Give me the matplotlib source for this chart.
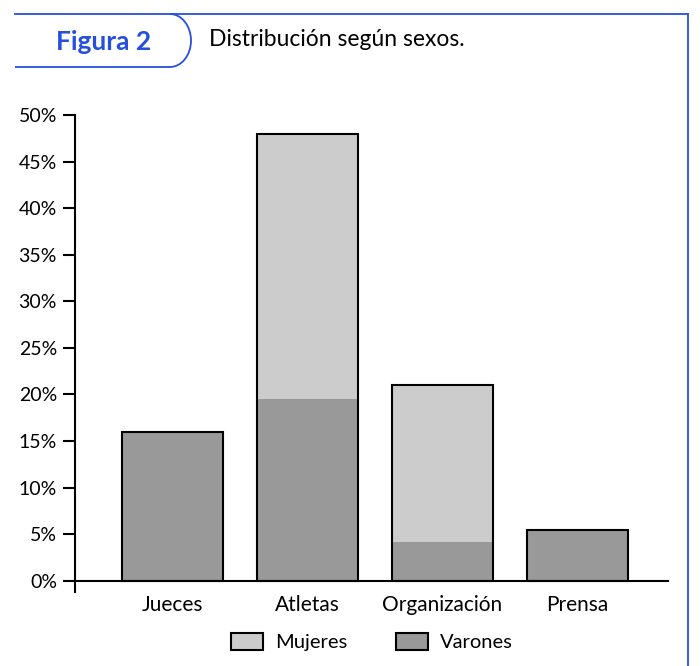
import matplotlib
matplotlib.use("Agg")
import matplotlib.pyplot as plt
from matplotlib.patches import Patch, PathPatch
from matplotlib.path import Path
from matplotlib.lines import Line2D

categories = ["Jueces", "Atletas", "Organización", "Prensa"]
varones = [16.0, 19.5, 4.2, 5.5]
mujeres = [0.0, 28.5, 16.8, 0.0]
yticks = [0, 5, 10, 15, 20, 25, 30, 35, 40, 45, 50]
title = "Distribución según sexos."
fig_label = "Figura 2"
legend_labels = ["Mujeres", "Varones"]

FONT = ["Lato", "DejaVu Sans"]
plt.rcParams["font.family"] = FONT
BLUE = "#2450dc"
C_M = "#cccccc"
C_V = "#999999"

W, H = 700, 666
fig = plt.figure(figsize=(7, 6.66), dpi=100)

def fx(x):
    return x / W

def fy(y):
    return 1 - y / H

# Blue frame and tab
fig.add_artist(Line2D([fx(15), fx(688)], [fy(14), fy(14)], color=BLUE, lw=1.3, transform=fig.transFigure))
fig.add_artist(Line2D([fx(688), fx(688)], [fy(14), fy(666)], color=BLUE, lw=1.3, transform=fig.transFigure))
k = 0.5523
rx, ry = 21, 26.5
cx, cy = 170, 40.5
verts = [(15, 67), (cx, 67),
         (cx + rx * k, 67), (cx + rx, cy + ry * k), (cx + rx, cy),
         (cx + rx, cy - ry * k), (cx + rx * k, 14), (cx, 14)]
codes = [Path.MOVETO, Path.LINETO,
         Path.CURVE4, Path.CURVE4, Path.CURVE4,
         Path.CURVE4, Path.CURVE4, Path.CURVE4]
verts = [(fx(a), fy(b)) for a, b in verts]
fig.add_artist(PathPatch(Path(verts, codes), fill=False, edgecolor=BLUE, lw=1.3, transform=fig.transFigure))
fig.text(fx(104), fy(42), fig_label, color=BLUE, fontsize=19, fontweight="bold", ha="center", va="center")
fig.text(fx(209), fy(39), title, color="black", fontsize=16.5, ha="left", va="center")

ax = fig.add_axes([fx(75), fy(592), fx(668) - fx(75), (592 - 115) / H])
x = list(range(len(categories)))
bw = 0.75
ax.bar(x, varones, width=bw, color=C_V, edgecolor="none", zorder=2)
ax.bar(x, mujeres, width=bw, bottom=varones, color=C_M, edgecolor="none", zorder=2)
totals = [v + m for v, m in zip(varones, mujeres)]
ax.bar(x, totals, width=bw, fill=False, edgecolor="black", lw=1.5, zorder=3)

ax.set_xlim(-0.722, 3.67)
ax.set_ylim(-1.2, 50)
ax.spines["top"].set_visible(False)
ax.spines["right"].set_visible(False)
ax.spines["bottom"].set_position(("data", 0))
ax.spines["left"].set_bounds(-1.2, 50)
for s in ("left", "bottom"):
    ax.spines[s].set_linewidth(1.5)
    ax.spines[s].set_zorder(4)
ax.set_yticks(yticks)
ax.set_yticklabels([f"{t}%" for t in yticks])
ax.tick_params(axis="y", length=9, width=1.5, labelsize=14, pad=4)
ax.set_xticks(x)
ax.set_xticklabels(categories)
ax.tick_params(axis="x", length=0, labelsize=15, pad=10)
ax.patch.set_visible(False)

handles = [Patch(facecolor=C_M, edgecolor="black", lw=1.5),
           Patch(facecolor=C_V, edgecolor="black", lw=1.5)]
fig.legend(handles, legend_labels, loc="center", bbox_to_anchor=(fx(372), fy(642)),
           ncol=2, frameon=False, fontsize=14.5, handlelength=1.6, handleheight=0.9,
           handletextpad=0.6, columnspacing=2.4)

fig.savefig("out.png", dpi=100)
